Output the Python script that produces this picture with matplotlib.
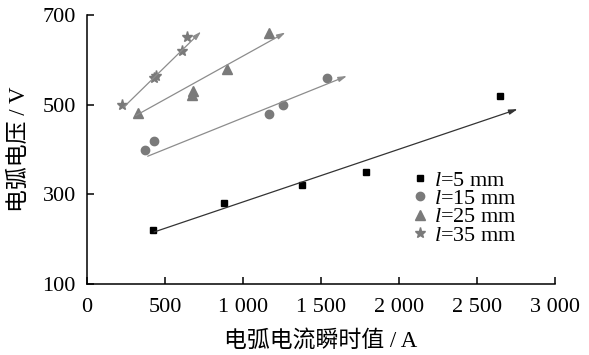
import numpy as np
import matplotlib.pyplot as plt

plt.rcParams['font.family'] = ['Liberation Serif', 'Noto Sans CJK SC']
plt.rcParams['mathtext.fontset'] = 'custom'
plt.rcParams['mathtext.rm'] = 'Liberation Serif'
plt.rcParams['mathtext.it'] = 'Liberation Serif:italic'

# measured points (current A, voltage V)
x5 = [420, 880, 1380, 1790, 2650]
y5 = [220, 280, 320, 350, 520]
x15 = [370, 430, 1165, 1255, 1540]
y15 = [400, 420, 480, 500, 560]
x25 = [330, 670, 680, 900, 1165]
y25 = [481, 521, 530, 580, 660]
x35 = [222, 430, 440, 610, 640]
y35 = [499, 560, 565, 620, 651]

# trend lines: (x start, y start, x end, y end)
trend5 = [430, 216, 2760, 490]
trend15 = [389, 385, 1666, 564]
trend25 = [314, 476, 1272, 661]
trend35 = [237, 495, 731, 663]

labels = ['$l$=5 mm', '$l$=15 mm', '$l$=25 mm', '$l$=35 mm']
xticks = [0, 500, 1000, 1500, 2000, 2500, 3000]
xticklabels = ['0', '500', '1 000', '1 500', '2 000', '2 500', '3 000']
yticks = [100, 300, 500, 700]

gray = '#7a7a7a'

fig = plt.figure(figsize=(5.89, 3.55), dpi=100)
ax = fig.add_axes([0.1477, 0.2, 0.7946, 0.7577])

# trend arrows
for tr, col in [(trend5, '#333333'), (trend15, '#8c8c8c'),
                (trend25, '#8c8c8c'), (trend35, '#8c8c8c')]:
    ax.annotate('', xy=(tr[2], tr[3]), xytext=(tr[0], tr[1]),
                arrowprops=dict(arrowstyle='-|>,head_length=0.5,head_width=0.15',
                                color=col, lw=0.9, shrinkA=0, shrinkB=0))

ax.plot(x5, y5, 's', color='black', markersize=5, label=labels[0])
ax.plot(x15, y15, 'o', color=gray, markersize=6, label=labels[1])
ax.plot(x25, y25, '^', color=gray, markersize=7, label=labels[2])
ax.plot(x35, y35, '*', color=gray, markersize=8, label=labels[3])

ax.set_xlim(0, 3000)
ax.set_ylim(100, 700)
ax.set_xticks(xticks)
ax.set_xticklabels(xticklabels)
ax.set_yticks(yticks)
ax.spines['top'].set_visible(False)
ax.spines['right'].set_visible(False)
for s in ['left', 'bottom']:
    ax.spines[s].set_linewidth(1.1)
ax.tick_params(direction='in', length=5, width=1.1, labelsize=16)
ax.tick_params(axis='x', pad=10)
ax.tick_params(axis='y', pad=8)

ax.set_xlabel('电弧电流瞬时值 / A', fontsize=16.5, labelpad=9)
ax.set_ylabel('电弧电压 / V', fontsize=16.5, labelpad=9)

leg = ax.legend(loc='upper left', bbox_to_anchor=(0.697, 0.423), frameon=False,
                fontsize=16, handlelength=0.6, handletextpad=0.35,
                labelspacing=-0.1, borderpad=0, borderaxespad=0)

plt.savefig('out.png', dpi=100)
